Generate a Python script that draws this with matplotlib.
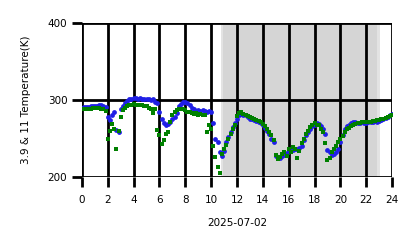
import numpy as np
import matplotlib

matplotlib.use("Agg")
import matplotlib.pyplot as plt

# 10-minute samples, hour 0 .. 24
HOURS = np.arange(145) / 6.0

# 3.9 um brightness temperature (K)
T39 = [
    290, 291, 291, 291, 292, 292, 292, 292, 293, 293, 292, 291,
    278, 274, 280, 284, 261, 258, 288, 292, 296, 299, 301, 302,
    303, 303, 302, 303, 302, 301, 302, 301, 300, 301, 298, 296,
    285, 275, 270, 268, 269, 272, 275, 278, 283, 292, 295, 297,
    298, 296, 294, 290, 288, 286, 287, 286, 287, 286, 285, 286,
    284, 270, 250, 245, 232, 228, 234, 245, 252, 258, 265, 270,
    276, 280, 282, 281, 280, 278, 276, 275, 274, 273, 272, 270,
    268, 264, 260, 256, 250, 245, 228, 226, 225, 227, 229, 231,
    234, 236, 235, 237, 236, 238, 240, 248, 255, 259, 262, 266,
    268, 270, 269, 266, 262, 256, 235, 232, 229, 230, 232, 236,
    245, 255, 262, 266, 268, 270, 272, 271, 270, 270, 271, 270,
    270, 271, 271, 272, 273, 272, 273, 274, 275, 277, 278, 280,
    282,
]

# 11 um brightness temperature (K)
T11 = [
    288, 288, 289, 289, 289, 290, 290, 290, 290, 289, 288, 286,
    249, 260, 269, 262, 237, 260, 278, 287, 290, 292, 294, 294,
    295, 294, 294, 293, 293, 292, 292, 290, 288, 283, 289, 261,
    254, 243, 248, 256, 258, 271, 280, 285, 287, 288, 289, 288,
    287, 285, 284, 283, 282, 283, 281, 282, 280, 281, 258, 267,
    263, 240, 226, 213, 205, 230, 236, 242, 250, 256, 263, 268,
    279, 283, 284, 282, 281, 279, 278, 277, 275, 274, 273, 271,
    269, 266, 262, 258, 254, 248, 229, 223, 226, 230, 232, 228,
    236, 232, 239, 237, 225, 234, 244, 250, 256, 260, 265, 268,
    270, 268, 267, 263, 258, 244, 222, 225, 232, 237, 240, 245,
    250, 253, 258, 262, 264, 266, 268, 269, 270, 270, 271, 271,
    271, 272, 272, 273, 273, 274, 274, 275, 276, 277, 278, 279,
    281,
]

# shaded (night) interval, hours
SHADE_OUTER = (10.76, 23.06)
SHADE_INNER = (10.94, 22.8)

fig = plt.figure(figsize=(4.18, 2.48), dpi=100)
ax = fig.add_axes([0.196, 0.286, 0.742, 0.621])

ax.axvspan(*SHADE_OUTER, color="#c8c8c8", alpha=0.5, lw=0, zorder=0)
ax.axvspan(*SHADE_INNER, color="#c8c8c8", alpha=0.5, lw=0, zorder=0)

ax.scatter(HOURS, T39, s=12, marker="o", color="#1f1fe6", linewidths=0, zorder=3)
ax.scatter(HOURS, T11, s=7, marker="s", color="green", linewidths=0, zorder=4)

ax.set_xlim(0, 24)
ax.set_ylim(200, 400)
ax.set_xticks(range(0, 25, 2))
ax.set_yticks([200, 300, 400])
ax.grid(True, color="black", linewidth=2, zorder=2)
ax.set_axisbelow(False)
for sp in ax.spines.values():
    sp.set_visible(False)
ax.tick_params(length=7, width=2, labelsize=7.5)
ax.tick_params(axis="x", pad=6)

ax.set_xlabel("2025-07-02", fontsize=7.5, labelpad=9)
ax.set_ylabel("3.9 & 11 Temperature(K)", fontsize=7.5, labelpad=12)

fig.savefig("out.png", dpi=100)
